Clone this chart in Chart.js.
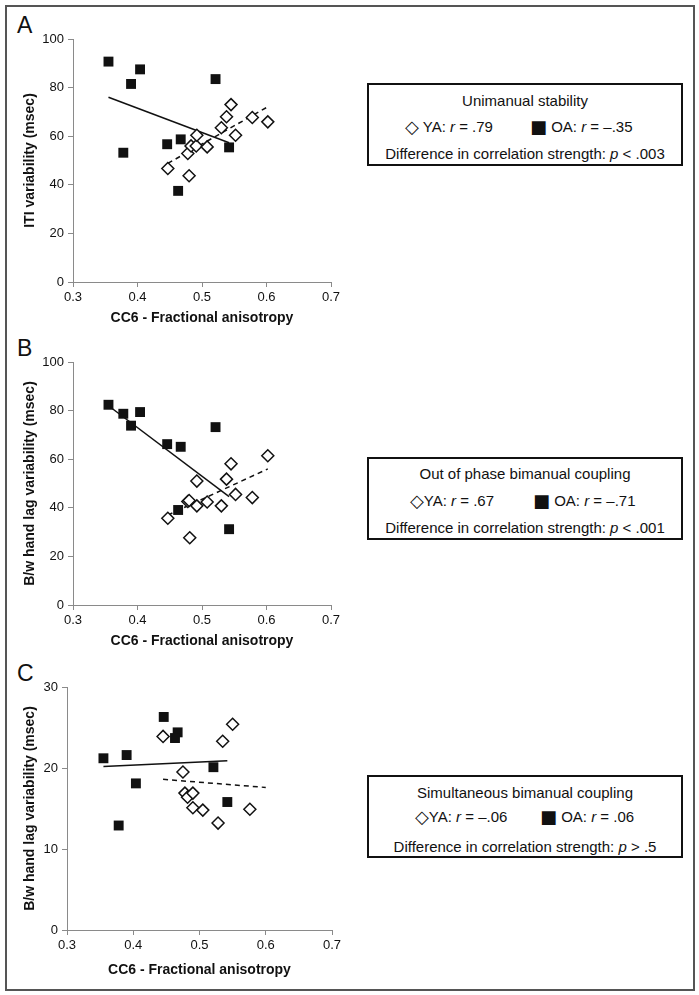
<!DOCTYPE html>
<html>
<head>
<meta charset="utf-8">
<script src="https://cdn.jsdelivr.net/npm/chart.js@4.4.1/dist/chart.umd.min.js"></script>
<style>
    body { margin: 0; background: #fff; font-family: "Liberation Sans", Arial, sans-serif; }
    #frame { position: absolute; left: 5px; top: 5px; width: 686px; height: 982px; border: 2px solid #555; }
    .panel { position: absolute; left: 0; }
    .letter { position: absolute; left: 17px; font-size: 23px; line-height: 1; color: #111; }
    .legend { position: absolute; left: 367px; width: 312px; height: 79px; border: 2px solid #111; color: #111; font-size: 15px; }
    .legend div { position: absolute; white-space: nowrap; line-height: 1; transform: translateY(-50%); }
    .legend .c { left: 0; right: 0; text-align: center; }
    .sym { font-family: "DejaVu Sans", sans-serif; font-size: 18px; vertical-align: -1px; }
</style>
</head>
<body>
<div id="frame"></div>

<div class="letter" style="top:14px">A</div>
<div class="letter" style="top:337px">B</div>
<div class="letter" style="top:662px">C</div>

<div class="panel" style="top:0"><canvas id="chartA" width="345" height="330"></canvas></div>
<div class="panel" style="top:330px"><canvas id="chartB" width="345" height="325"></canvas></div>
<div class="panel" style="top:655px"><canvas id="chartC" width="345" height="330"></canvas></div>

<div class="legend" style="top:83px">
    <div class="c" style="top:15px">Unimanual stability</div>
    <div style="top:42px;left:36px"><span class="sym">◇</span> YA: <i>r</i> = .79</div>
    <div style="top:42px;left:161px"><span class="sym">■</span> OA: <i>r</i> = –.35</div>
    <div class="c" style="top:68px">Difference in correlation strength: <i>p</i> &lt; .003</div>
</div>
<div class="legend" style="top:457px">
    <div class="c" style="top:14px">Out of phase bimanual coupling</div>
    <div style="top:42px;left:41px"><span class="sym">◇</span>YA: <i>r</i> = .67</div>
    <div style="top:42px;left:164px"><span class="sym">■</span> OA: <i>r</i> = –.71</div>
    <div class="c" style="top:68px">Difference in correlation strength: <i>p</i> &lt; .001</div>
</div>
<div class="legend" style="top:775px">
    <div class="c" style="top:15px">Simultaneous bimanual coupling</div>
    <div style="top:40px;left:46px"><span class="sym">◇</span>YA: <i>r</i> = –.06</div>
    <div style="top:40px;left:171px"><span class="sym">■</span> OA: <i>r</i> = .06</div>
    <div class="c" style="top:69px">Difference in correlation strength: <i>p</i> &gt; .5</div>
</div>

<script>
// Panel A - unimanual stability (ITI variability)
const aOaFa  = [0.355, 0.390, 0.404, 0.378, 0.446, 0.467, 0.463, 0.521, 0.542];
const aOaVal = [90.7, 81.5, 87.5, 53.2, 56.7, 58.7, 37.5, 83.5, 55.4];
const aYaFa  = [0.447, 0.480, 0.478, 0.483, 0.491, 0.492, 0.508, 0.530, 0.538, 0.545, 0.552, 0.578, 0.602];
const aYaVal = [46.7, 43.7, 52.9, 56.0, 56.0, 60.4, 55.6, 63.5, 68.0, 73.0, 60.4, 67.7, 65.9];
const aOaFit = [[0.355, 76.0], [0.542, 57.3]];
const aYaFit = [[0.447, 48.8], [0.602, 72.1]];

// Panel B - out of phase bimanual coupling
const bOaFa  = [0.355, 0.390, 0.404, 0.378, 0.446, 0.467, 0.463, 0.521, 0.542];
const bOaVal = [82.4, 73.8, 79.4, 78.7, 66.2, 65.1, 39.1, 73.2, 31.2];
const bYaFa  = [0.447, 0.481, 0.478, 0.480, 0.492, 0.492, 0.508, 0.530, 0.538, 0.545, 0.552, 0.578, 0.602];
const bYaVal = [35.7, 27.7, 42.6, 43.0, 51.0, 40.8, 42.4, 40.8, 51.8, 58.1, 45.5, 44.2, 61.4];
const bOaFit = [[0.355, 82.0], [0.542, 44.6]];
const bYaFit = [[0.447, 37.0], [0.602, 56.0]];

// Panel C - simultaneous bimanual coupling
const cOaFa  = [0.355, 0.378, 0.390, 0.404, 0.446, 0.467, 0.463, 0.521, 0.542];
const cOaVal = [21.2, 12.9, 21.6, 18.1, 26.3, 24.4, 23.7, 20.1, 15.8];
const cYaFa  = [0.445, 0.475, 0.478, 0.482, 0.490, 0.490, 0.505, 0.528, 0.535, 0.550, 0.576];
const cYaVal = [23.9, 19.5, 16.9, 16.4, 16.9, 15.1, 14.8, 13.2, 23.3, 25.4, 14.9];
const cOaFit = [[0.355, 20.2], [0.542, 20.9]];
const cYaFit = [[0.445, 18.6], [0.600, 17.6]];

const xTicks = [0.3, 0.4, 0.5, 0.6, 0.7];

const INK  = '#111';
const AXIS = '#8a8a8a';

const pts = (xs, ys) => xs.map((x, i) => ({ x, y: ys[i] }));
const fit = line => line.map(([x, y]) => ({ x, y }));

function makePanel(id, p) {
    new Chart(document.getElementById(id).getContext('2d'), {
        type: 'scatter',
        data: {
            datasets: [
                {
                    data: pts(p.yaFa, p.yaVal),
                    pointStyle: 'rectRot', pointRadius: 6,
                    backgroundColor: '#fff', borderColor: INK, borderWidth: 1.5,
                },
                {
                    data: pts(p.oaFa, p.oaVal),
                    pointStyle: 'rect', pointRadius: 7,
                    backgroundColor: INK, borderColor: INK, borderWidth: 0,
                },
                {
                    type: 'line', data: fit(p.oaFit),
                    borderColor: INK, borderWidth: 1.5, pointRadius: 0,
                },
                {
                    type: 'line', data: fit(p.yaFit),
                    borderColor: INK, borderWidth: 1.5, borderDash: [5, 4], pointRadius: 0,
                },
            ],
        },
        options: {
            responsive: false,
            animation: false,
            devicePixelRatio: 1,
            layout: { padding: { left: 22, top: p.top, right: p.right, bottom: p.bottom } },
            scales: {
                x: {
                    type: 'linear', min: 0.3, max: 0.7,
                    afterBuildTicks: s => { s.ticks = xTicks.map(v => ({ value: v })); },
                    ticks: { callback: v => v.toFixed(1), color: INK, font: { size: 13 }, padding: 3 },
                    grid: { drawOnChartArea: false, tickLength: 5, color: AXIS },
                    border: { color: AXIS },
                    title: {
                        display: true, text: 'CC6 - Fractional anisotropy',
                        color: INK, font: { size: 14, weight: 'bold' }, padding: 0,
                    },
                    afterFit: s => { s.height = p.xHeight; },
                },
                y: {
                    min: 0, max: p.yMax,
                    ticks: { stepSize: p.yStep, color: INK, font: { size: 13 }, padding: 4 },
                    grid: { drawOnChartArea: false, tickLength: 5, color: AXIS },
                    border: { color: AXIS },
                    title: {
                        display: true, text: p.yTitle,
                        color: INK, font: { size: 14, weight: 'bold' }, padding: 0,
                    },
                    afterFit: s => { s.width = p.yWidth; },
                },
            },
            plugins: { legend: { display: false }, tooltip: { enabled: false } },
        },
    });
}

Chart.defaults.font.family = '"Liberation Sans", Arial, sans-serif';

makePanel('chartA', {
    oaFa: aOaFa, oaVal: aOaVal, yaFa: aYaFa, yaVal: aYaVal, oaFit: aOaFit, yaFit: aYaFit,
    yMax: 100, yStep: 20, yTitle: 'ITI variability (msec)',
    top: 39, right: 14, bottom: 3.6, xHeight: 44.4, yWidth: 51,
});
makePanel('chartB', {
    oaFa: bOaFa, oaVal: bOaVal, yaFa: bYaFa, yaVal: bYaVal, oaFit: bOaFit, yaFit: bYaFit,
    yMax: 100, yStep: 20, yTitle: 'B/w hand lag variability (msec)',
    top: 32, right: 14, bottom: 5.6, xHeight: 44.4, yWidth: 51,
});
makePanel('chartC', {
    oaFa: cOaFa, oaVal: cOaVal, yaFa: cYaFa, yaVal: cYaVal, oaFit: cOaFit, yaFit: cYaFit,
    yMax: 30, yStep: 10, yTitle: 'B/w hand lag variability (msec)',
    top: 32, right: 13, bottom: 6.6, xHeight: 48.4, yWidth: 45,
});
</script>
</body>
</html>
